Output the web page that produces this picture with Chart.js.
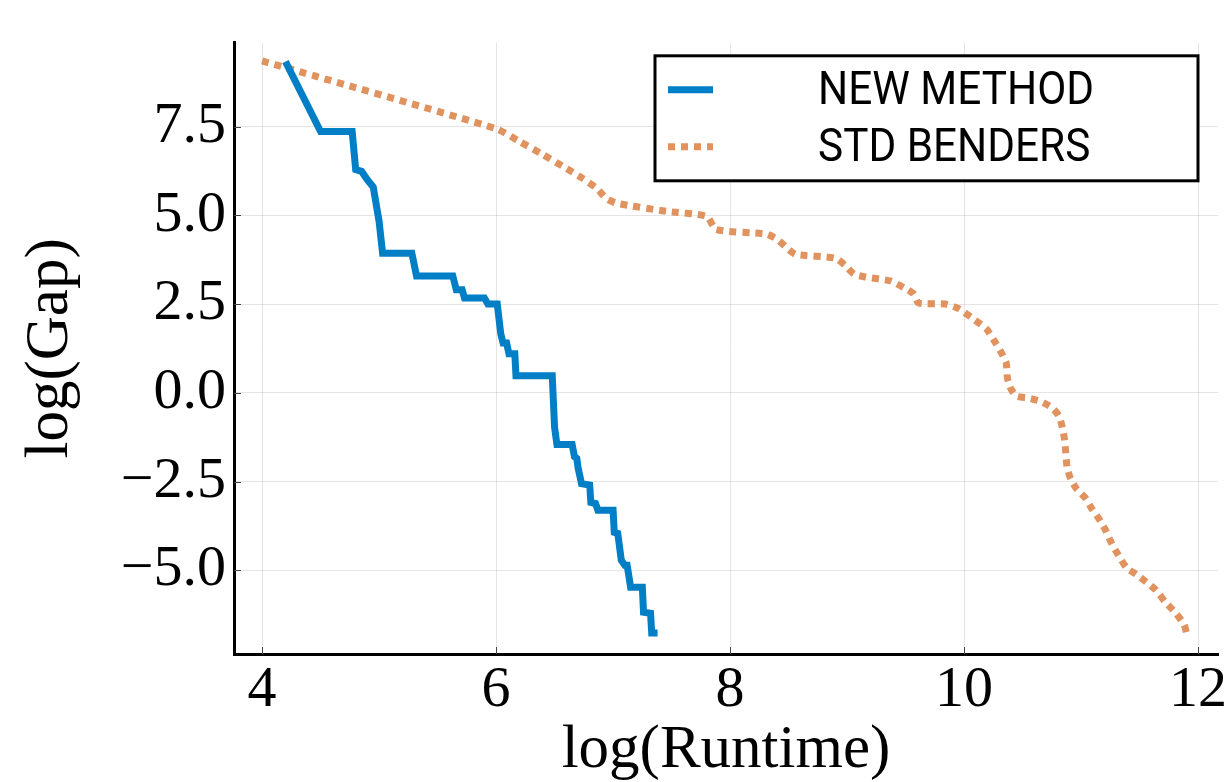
<!DOCTYPE html>
<html>
<head>
<meta charset="utf-8">
<script src="https://cdn.jsdelivr.net/npm/chart.js@4/dist/chart.umd.min.js"></script>
<style>
  html, body { margin: 0; padding: 0; background: #fff; }
  #wrap { width: 1232px; height: 782px; }
</style>
</head>
<body>
<div id="wrap"><canvas id="chart_canvas" width="1232" height="782"></canvas></div>
<script>
// log(Runtime) vs log(Gap) for both solvers
const newLabel = 'NEW METHOD';
const newX = [4.20, 4.50, 4.77, 4.80, 4.85, 4.90, 4.95, 5.00, 5.03, 5.28, 5.32, 5.63, 5.66, 5.71, 5.73, 5.90,
  5.93, 6.01, 6.04, 6.06, 6.09, 6.11, 6.16, 6.17, 6.48, 6.50, 6.52, 6.65, 6.67, 6.69, 6.70, 6.73,
  6.80, 6.81, 6.85, 6.87, 7.00, 7.01, 7.04, 7.07, 7.10, 7.12, 7.15, 7.25, 7.26, 7.32, 7.33, 7.38];
const newY = [9.33, 7.36, 7.36, 6.29, 6.24, 6.00, 5.80, 4.83, 3.93, 3.93, 3.29, 3.29, 2.90, 2.90, 2.67, 2.67,
  2.50, 2.50, 1.66, 1.40, 1.40, 1.10, 1.10, 0.48, 0.48, -0.98, -1.46, -1.46, -1.80, -1.85, -2.10, -2.56,
  -2.60, -3.09, -3.12, -3.31, -3.31, -3.93, -3.96, -4.72, -4.86, -4.86, -5.48, -5.48, -6.18, -6.21, -6.77, -6.77];

const stdLabel = 'STD BENDERS';
const stdX = [4.00, 6.00, 6.20, 6.40, 6.57, 6.74, 6.86, 6.94, 7.03, 7.46, 7.80, 7.88, 8.31, 8.40, 8.49, 8.56,
  8.90, 8.99, 9.06, 9.16, 9.37, 9.49, 9.57, 9.61, 9.84, 9.96, 10.07, 10.19, 10.27, 10.32, 10.36, 10.37,
  10.40, 10.45, 10.55, 10.66, 10.75, 10.81, 10.84, 10.86, 10.88, 10.91, 10.96, 11.04, 11.09, 11.15, 11.21,
  11.26, 11.32, 11.39, 11.47, 11.56, 11.64, 11.72, 11.81, 11.88, 11.91];
const stdY = [9.35, 7.44, 7.08, 6.71, 6.38, 6.04, 5.76, 5.48, 5.34, 5.11, 4.97, 4.60, 4.47, 4.33, 4.07, 3.90,
  3.79, 3.57, 3.34, 3.26, 3.15, 2.95, 2.78, 2.53, 2.50, 2.36, 2.10, 1.80, 1.40, 1.12, 0.84, 0.42,
  0.11, -0.10, -0.15, -0.25, -0.42, -0.65, -0.98, -1.35, -2.10, -2.42, -2.70, -2.98, -3.26, -3.54, -3.88,
  -4.24, -4.58, -4.94, -5.11, -5.34, -5.56, -5.90, -6.21, -6.54, -6.88];

const xTicks = [4, 6, 8, 10, 12];
const yTicks = [-5, -2.5, 0, 2.5, 5, 7.5];

const serif = '"Liberation Serif", "DejaVu Serif", serif';
const BLUE = '#007fc6';
const ORANGE = '#e0935f';

const toPoints = (xs, ys) => xs.map((x, i) => ({ x: x, y: ys[i] }));

// small inward tick marks on both axes
const innerTicks = {
  id: 'innerTicks',
  beforeDatasetsDraw(chart) {
    const { ctx, chartArea, scales } = chart;
    ctx.save();
    ctx.strokeStyle = '#444';
    ctx.lineWidth = 1;
    ctx.beginPath();
    scales.x.ticks.forEach(t => {
      const px = Math.round(scales.x.getPixelForValue(t.value)) + 0.5;
      ctx.moveTo(px, chartArea.bottom);
      ctx.lineTo(px, chartArea.bottom - 7);
    });
    scales.y.ticks.forEach(t => {
      const py = Math.round(scales.y.getPixelForValue(t.value)) + 0.5;
      ctx.moveTo(chartArea.left, py);
      ctx.lineTo(chartArea.left + 7, py);
    });
    ctx.stroke();
    ctx.restore();
  }
};

// boxed legend in the top right corner of the plot
const boxLegend = {
  id: 'boxLegend',
  afterDraw(chart) {
    const { ctx, chartArea } = chart;
    const w = 543, h = 125;
    const bx = chartArea.right - 20 - w;
    const by = chartArea.top + 13;
    ctx.save();
    ctx.fillStyle = '#fff';
    ctx.fillRect(bx, by, w, h);
    ctx.strokeStyle = '#000';
    ctx.lineWidth = 3;
    ctx.strokeRect(bx, by, w, h);
    chart.data.datasets.forEach((ds, i) => {
      const ly = by + 34 + i * 57;
      ctx.beginPath();
      ctx.strokeStyle = ds.borderColor;
      ctx.lineWidth = ds.borderWidth;
      ctx.setLineDash(ds.borderDash || []);
      ctx.moveTo(bx + 13, ly);
      ctx.lineTo(bx + 58, ly);
      ctx.stroke();
      ctx.setLineDash([]);
      ctx.save();
      ctx.translate(bx + 163, ly + 3);
      ctx.scale(0.92, 1);
      ctx.fillStyle = '#000';
      ctx.font = '46px Roboto';
      ctx.textAlign = 'left';
      ctx.textBaseline = 'middle';
      ctx.fillText(ds.label, 0, 0);
      ctx.restore();
    });
    ctx.restore();
  }
};

const ctx = document.getElementById('chart_canvas');

const gapChart = new Chart(ctx, { // eslint-disable-line no-unused-vars
  type: 'line',
  data: {
    datasets: [{
      label: newLabel,
      data: toPoints(newX, newY),
      borderColor: BLUE,
      borderWidth: 7,
      pointRadius: 0,
      tension: 0,
      fill: false
    }, {
      label: stdLabel,
      data: toPoints(stdX, stdY),
      borderColor: ORANGE,
      borderWidth: 7,
      borderDash: [7, 6],
      pointRadius: 0,
      tension: 0.2,
      fill: false
    }]
  },
  options: {
    responsive: false,
    animation: false,
    devicePixelRatio: 1,
    layout: { padding: { top: 42, right: 14, left: 0, bottom: 0 } },
    plugins: {
      legend: { display: false },
      tooltip: { enabled: false }
    },
    scales: {
      x: {
        type: 'linear',
        min: 3.76,
        max: 12.17,
        afterBuildTicks: s => { s.ticks = xTicks.map(v => ({ value: v })); },
        afterFit: s => { s.height = 128; },
        grid: { color: 'rgba(0,0,0,0.1)', lineWidth: 1, drawTicks: false },
        border: { color: '#000', width: 3 },
        ticks: {
          color: '#000',
          font: { family: serif, size: 58 },
          padding: 2,
          maxRotation: 0,
          callback: v => String(v)
        },
        title: {
          display: true,
          text: 'log(Runtime)',
          color: '#000',
          font: { family: serif, size: 61 },
          padding: { top: 0, bottom: -6 }
        }
      },
      y: {
        type: 'linear',
        min: -7.36,
        max: 9.86,
        afterBuildTicks: s => { s.ticks = yTicks.map(v => ({ value: v })); },
        afterFit: s => { s.width = 234; },
        grid: { color: 'rgba(0,0,0,0.1)', lineWidth: 1, drawTicks: false },
        border: { color: '#000', width: 3 },
        ticks: {
          color: '#000',
          font: { family: serif, size: 58 },
          padding: 8,
          callback: v => v.toFixed(1).replace('-', '\u2212')
        },
        title: {
          display: true,
          text: 'log(Gap)',
          color: '#000',
          font: { family: serif, size: 61 },
          padding: { top: 14, bottom: 0 }
        }
      }
    }
  },
  plugins: [innerTicks, boxLegend]
});
</script>
</body>
</html>
